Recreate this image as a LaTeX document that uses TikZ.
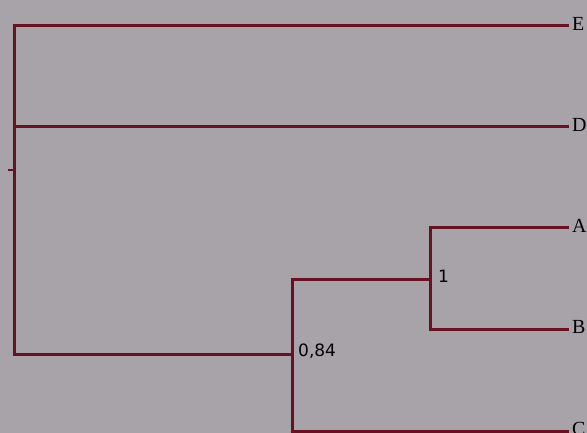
\documentclass[tikz,border=0pt]{standalone}
\usepackage{fontspec}
\setmainfont{Liberation Serif}
\newfontfamily\supfont{DejaVu Sans}
\definecolor{bg}{HTML}{A7A3A8}
\definecolor{br}{HTML}{661222}
\begin{document}
\begin{tikzpicture}[x=1pt,y=-1pt,
  branch/.style={draw=br,line width=3pt,line cap=rect,line join=miter},
  leaf/.style={anchor=west,inner sep=0pt,font=\fontsize{20}{20}\selectfont,text=black},
  support/.style={anchor=west,inner sep=0pt,font=\supfont\fontsize{17}{17}\selectfont,text=black}]
\fill[bg] (0,0) rectangle (587,433);
\clip (0,0) rectangle (587,433);
\useasboundingbox (0,0) rectangle (587,433);
% nodes (coordinates)
\coordinate (root) at (14,170);
\coordinate (rtop) at (14,26);
\coordinate (rbot) at (14,354);
\coordinate (rmid) at (14,127);
\coordinate (n84) at (292,354);
\coordinate (n84t) at (292,279);
\coordinate (n84b) at (292,431);
\coordinate (n1) at (430,279);
\coordinate (n1t) at (430,228);
\coordinate (n1b) at (430,329);
\coordinate (stub) at (9,170);
% leaves
\node[leaf] (E) at (572,24) {E};
\node[leaf] (D) at (572,125) {D};
\node[leaf] (A) at (572,226) {A};
\node[leaf] (B) at (572,327) {B};
\node[leaf] (C) at (572,429) {C};
% support labels
\node[support] (s1) at (438,276) {1};
\node[support] (s84) at (298,351) {0,84};
% branches
\draw[branch] (rtop) -- (rbot);
\draw[branch,line width=1.6pt] (stub) -- (root);
\draw[branch] (rtop) -- (567,26);
\draw[branch] (rmid) -- (567,127);
\draw[branch] (rbot) -- (n84);
\draw[branch] (n84t) -- (n84b);
\draw[branch] (n84t) -- (n1);
\draw[branch] (n1t) -- (n1b);
\draw[branch] (n1t) -- (567,228);
\draw[branch] (n1b) -- (567,329);
\draw[branch] (n84b) -- (567,431);
\end{tikzpicture}
\end{document}
